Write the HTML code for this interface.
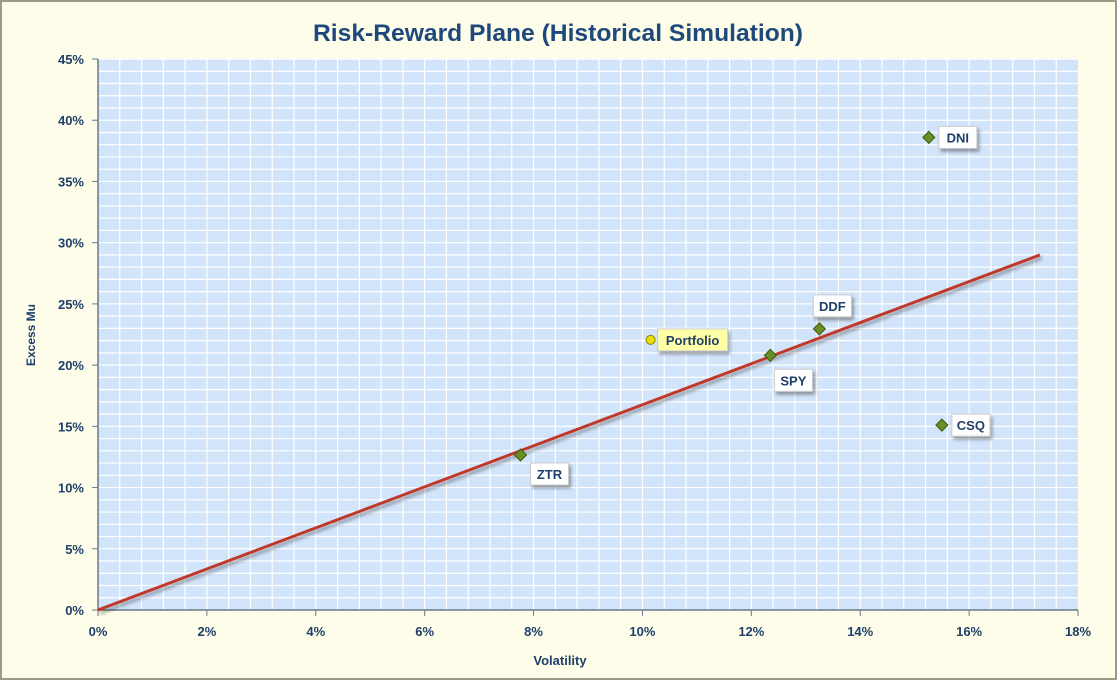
<!DOCTYPE html>
<html><head><meta charset="utf-8"><style>
body{margin:0;background:#fff;}
svg text{font-family:"Liberation Sans",sans-serif;}
</style></head><body>
<svg width="1117" height="680" viewBox="0 0 1117 680">
<defs>
<filter id="sh" x="-20%" y="-20%" width="140%" height="160%"><feDropShadow dx="2" dy="3" stdDeviation="1.5" flood-color="#000" flood-opacity="0.35"/></filter>
</defs>
<rect x="1" y="1" width="1115" height="678" fill="#fdfde9" stroke="#9a9a8a" stroke-width="2"/>
<text x="558" y="41" text-anchor="middle" font-size="24" font-weight="bold" fill="#1f497d" textLength="490" lengthAdjust="spacingAndGlyphs">Risk-Reward Plane (Historical Simulation)</text>
<rect x="98" y="59" width="980" height="551" fill="#d2e4fa"/>
<g id="grid"></g>
<line x1="98" y1="610" x2="1078" y2="610" stroke="#6a7a8a" stroke-width="1.5"/>
<line x1="98" y1="59" x2="98" y2="610" stroke="#6a7a8a" stroke-width="1.5"/>
<g id="ticks"></g>
<text x="560" y="665" text-anchor="middle" font-size="13" font-weight="bold" fill="#1f3f6a">Volatility</text>
<text x="35" y="335" text-anchor="middle" font-size="12" font-weight="bold" fill="#1f3f6a" transform="rotate(-90 35 335)">Excess Mu</text>
<g id="marks"></g>
</svg>
<script>
const tickX=["0%","2%","4%","6%","8%","10%","12%","14%","16%","18%"];
const tickY=["0%","5%","10%","15%","20%","25%","30%","35%","40%","45%"];
const names=["DNI","DDF","SPY","CSQ","ZTR"];
const vols=[15.26,13.25,12.35,15.5,7.76];
const mus=[38.6,22.96,20.8,15.1,12.66];
const portVol=[10.15];const portMu=[22.06];
const lineVol=[0,17.3];const lineMu=[0,29.0];
const NS="http://www.w3.org/2000/svg";
const X=v=>98+v/18*980, Y=v=>610-v/45*551;
function mk(t,a,p){const e=document.createElementNS(NS,t);for(const k in a)e.setAttribute(k,a[k]);p.appendChild(e);return e;}
const grid=document.getElementById('grid'),ticks=document.getElementById('ticks'),marks=document.getElementById('marks');
for(let i=1;i<45;i++){const v=i*0.4;const l=mk('line',{x1:X(v),x2:X(v),y1:59,y2:610,stroke:'#fff','stroke-width':1.2},grid);

}
for(let v=1;v<=45;v+=1){const l=mk('line',{x1:98,x2:1078,y1:Y(v),y2:Y(v),stroke:'#fff','stroke-width':1.2},grid);

}
tickX.forEach((s,i)=>{const v=i*2;mk('line',{x1:X(v),x2:X(v),y1:610,y2:616,stroke:'#6a7a8a'},ticks);
const t=mk('text',{x:X(v),y:636,'text-anchor':'middle','font-size':13,'font-weight':'bold',fill:'#1f3f6a'},ticks);t.textContent=s;

});
tickY.forEach((s,i)=>{const v=i*5;mk('line',{x1:92,x2:98,y1:Y(v),y2:Y(v),stroke:'#6a7a8a'},ticks);
const t=mk('text',{x:84,y:Y(v)+5,'text-anchor':'end','font-size':13,'font-weight':'bold',fill:'#1f3f6a'},ticks);t.textContent=s;

});
const ln=mk('line',{x1:X(lineVol[0]),y1:Y(lineMu[0]),x2:X(lineVol[1]),y2:Y(lineMu[1]),stroke:'#c0392b','stroke-width':3,filter:'url(#sh)'},marks);


const off={DNI:[10,-11],DDF:[-6,-34],SPY:[4,14],CSQ:[10,-11],ZTR:[10,8]};
names.forEach((n,i)=>{const cx=X(vols[i]),cy=Y(mus[i]);
const d=mk('polygon',{points:`${cx},${cy-6} ${cx+6},${cy} ${cx},${cy+6} ${cx-6},${cy}`,fill:'#6b8e23',stroke:'#3d5a12'},marks);


const o=off[n];const w=38;const bx=cx+o[0],by=cy+o[1];
const r=mk('rect',{x:bx,y:by,width:w,height:22,fill:'#fff',stroke:'#ccc',filter:'url(#sh)'},marks);


const t=mk('text',{x:bx+w/2,y:by+16,'text-anchor':'middle','font-size':13,'font-weight':'bold',fill:'#1f3f6a'},marks);t.textContent=n;

});
const px=X(portVol[0]),py=Y(portMu[0]);
const pr=mk('rect',{x:px+7,y:py-11,width:70,height:22,fill:'#ffffa8',stroke:'#ccc',filter:'url(#sh)'},marks);


const pt=mk('text',{x:px+42,y:py+5,'text-anchor':'middle','font-size':13,'font-weight':'bold',fill:'#1f3f6a'},marks);pt.textContent='Portfolio';


const pc=mk('circle',{cx:px,cy:py,r:4.5,fill:'#e8e000',stroke:'#8a8000'},marks);


</script>
</body></html>
